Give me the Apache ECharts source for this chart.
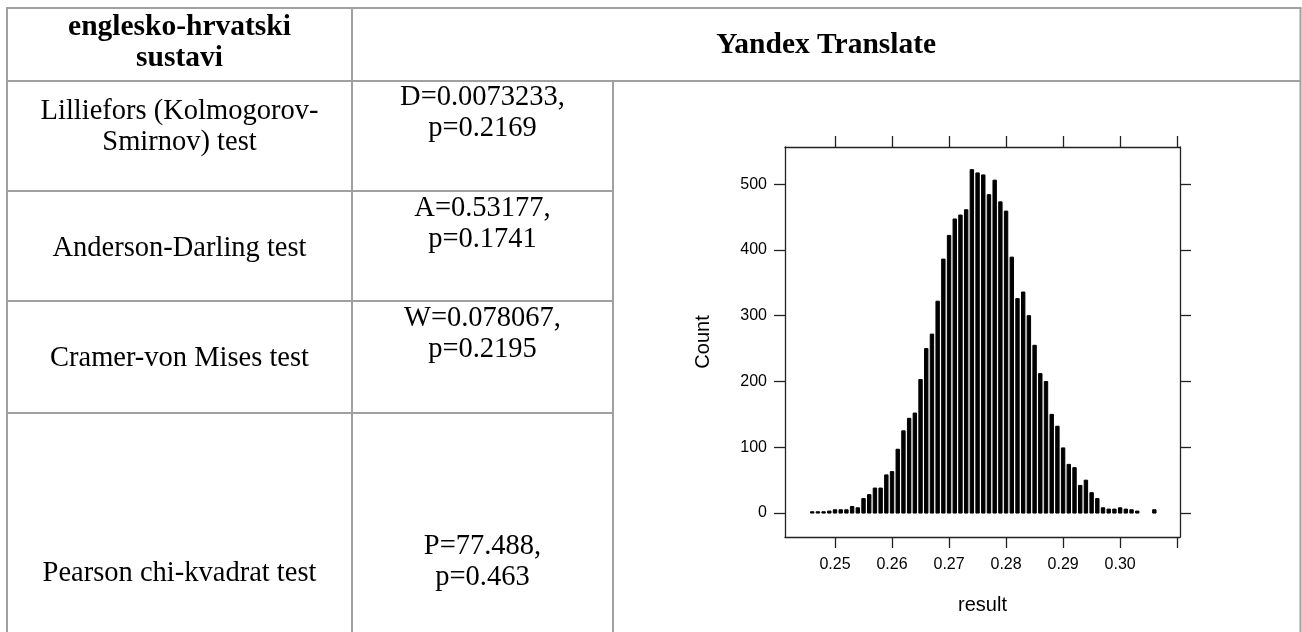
<!DOCTYPE html>
<html><head><meta charset="utf-8">
<script src="https://cdn.jsdelivr.net/npm/echarts@6/dist/echarts.min.js"></script>
<style>html,body{margin:0;padding:0;background:#fff;}#c{width:1302px;height:632px;}</style>
</head><body><div id="c"></div>
<script>
// ---- data ----
const binCenters = [0.246,0.247,0.248,0.249,0.250,0.251,0.252,0.253,0.254,0.255,
  0.256,0.257,0.258,0.259,0.260,0.261,0.262,0.263,0.264,0.265,
  0.266,0.267,0.268,0.269,0.270,0.271,0.272,0.273,0.274,0.275,
  0.276,0.277,0.278,0.279,0.280,0.281,0.282,0.283,0.284,0.285,
  0.286,0.287,0.288,0.289,0.290,0.291,0.292,0.293,0.294,0.295,
  0.296,0.297,0.298,0.299,0.300,0.301,0.302,0.303,0.304,0.305,0.306];
const counts = [2,2,2,3,5,5,5,10,8,22,
  28,38,38,58,63,97,125,144,152,203,
  250,272,322,386,422,447,453,461,522,517,
  514,484,506,473,459,389,326,336,300,255,
  212,200,150,132,99,74,69,42,50,31,
  22,8,6,6,8,6,5,3,0,0,5];
const binWidth = 0.001;
const xTickValues = [0.25,0.26,0.27,0.28,0.29,0.30,0.31];
const xLabelValues = [0.25,0.26,0.27,0.28,0.29,0.30];
const yTickValues = [0,100,200,300,400,500];
const xAxisTitle = 'result';
const yAxisTitle = 'Count';
const headerLeft = ['englesko-hrvatski','sustavi'];
const headerRight = 'Yandex Translate';
const testNames = [['Lilliefors (Kolmogorov-','Smirnov) test'],['Anderson-Darling test'],['Cramer-von Mises test'],['Pearson chi-kvadrat test']];
const testResults = [['D=0.0073233,','p=0.2169'],['A=0.53177,','p=0.1741'],['W=0.078067,','p=0.2195'],['P=77.488,','p=0.463']];

// ---- layout ----
const SERIF = '"Liberation Serif", "Times New Roman", serif';
const SANS = '"Liberation Sans", Arial, sans-serif';
const FS = 28.5;
const tL = 7, tR = 1300.5, tT = 8, tB = 640, c1 = 352, c2 = 613;
const rowLines = [81, 191, 301, 413];
const col1X = (tL + c1) / 2, col2X = (c1 + c2) / 2, rightX = (c1 + tR) / 2;
// line centers of text per row
const nameY = [[112, 143], [249], [359], [574]];
const resY = [[98, 129], [209, 240], [319, 350], [547, 578]];

const graphic = [];
const lineStyle = {stroke: '#a0a0a0', lineWidth: 2};
function hl(y, x1, x2) { graphic.push({type: 'line', shape: {x1: x1, y1: y, x2: x2, y2: y}, style: lineStyle, silent: true}); }
function vl(x, y1, y2) { graphic.push({type: 'line', shape: {x1: x, y1: y1, x2: x, y2: y2}, style: lineStyle, silent: true}); }
hl(tT, tL - 1, tR + 1);
hl(rowLines[0], tL, tR);
for (let i = 1; i < rowLines.length; i++) hl(rowLines[i], tL, c2);
vl(tL, tT, tB); vl(c1, tT, tB); vl(c2, rowLines[0], tB); vl(tR, tT, tB);
function txt(s, x, y, bold) {
  graphic.push({type: 'text', silent: true, style: {text: s, x: x, y: y, align: 'center', verticalAlign: 'middle',
    fill: '#000', font: (bold ? 'bold ' : '') + (bold ? FS + 1 : FS) + 'px ' + SERIF}});
}
txt(headerLeft[0], col1X, 27, true);
txt(headerLeft[1], col1X, 58, true);
txt(headerRight, rightX, 45, true);
testNames.forEach((lines, r) => lines.forEach((s, k) => txt(s, col1X, nameY[r][k], false)));
testResults.forEach((lines, r) => lines.forEach((s, k) => txt(s, col2X, resY[r][k], false)));

const axisCol = '#222';
const xMin = 0.24123, xMax = 0.3105, yMin = -36.4, yMax = 556.4;
function baseAxis(extra) {
  return Object.assign({
    type: 'value', splitLine: {show: false},
    axisLine: {show: true, onZero: false, lineStyle: {color: axisCol, width: 1.3}},
  }, extra);
}
const labelStyle = {fontSize: 16, fontFamily: SANS, color: '#000'};
const option = {
  animation: false,
  grid: {left: 785, top: 147, width: 395, height: 390, show: false},
  xAxis: [
    baseAxis({min: xMin, max: xMax, position: 'bottom',
      axisTick: {show: true, length: 11, customValues: xTickValues, lineStyle: {color: axisCol, width: 1.3}},
      axisLabel: Object.assign({customValues: xLabelValues, margin: 20, formatter: v => v.toFixed(2)}, labelStyle),
      name: xAxisTitle, nameLocation: 'middle', nameGap: 58,
      nameTextStyle: {fontSize: 20, fontFamily: SANS, color: '#000'}}),
    baseAxis({min: xMin, max: xMax, position: 'top',
      axisTick: {show: true, length: 11, customValues: xTickValues, lineStyle: {color: axisCol, width: 1.3}},
      axisLabel: {show: false}})
  ],
  yAxis: [
    baseAxis({min: yMin, max: yMax, position: 'left',
      axisTick: {show: true, length: 11, customValues: yTickValues, lineStyle: {color: axisCol, width: 1.3}},
      axisLabel: Object.assign({customValues: yTickValues, margin: 18}, labelStyle),
      name: yAxisTitle, nameLocation: 'middle', nameGap: 72,
      nameTextStyle: {fontSize: 20, fontFamily: SANS, color: '#000'}}),
    baseAxis({min: yMin, max: yMax, position: 'right',
      axisTick: {show: true, length: 11, customValues: yTickValues, lineStyle: {color: axisCol, width: 1.3}},
      axisLabel: {show: false}})
  ],
  series: [{
    type: 'custom', xAxisIndex: 0, yAxisIndex: 0,
    data: binCenters.map((x, i) => [x, counts[i]]),
    renderItem: function (params, api) {
      const x = api.value(0), c = api.value(1);
      if (!c) return null;
      const p0 = api.coord([x - binWidth / 2, 0]);
      const p1 = api.coord([x + binWidth / 2, c]);
      const gap = 1.3;
      const w = p1[0] - p0[0];
      return {type: 'rect', shape: {x: p0[0] + (gap + 1) / 2, y: p1[1], width: w - gap - 1, height: p0[1] - p1[1]},
        style: {fill: '#000', stroke: '#000', lineWidth: 1}};
    }
  }],
  graphic: graphic
};
const chart = echarts.init(document.getElementById('c'), null, {renderer: 'canvas'});
chart.setOption(option);
</script></body></html>
